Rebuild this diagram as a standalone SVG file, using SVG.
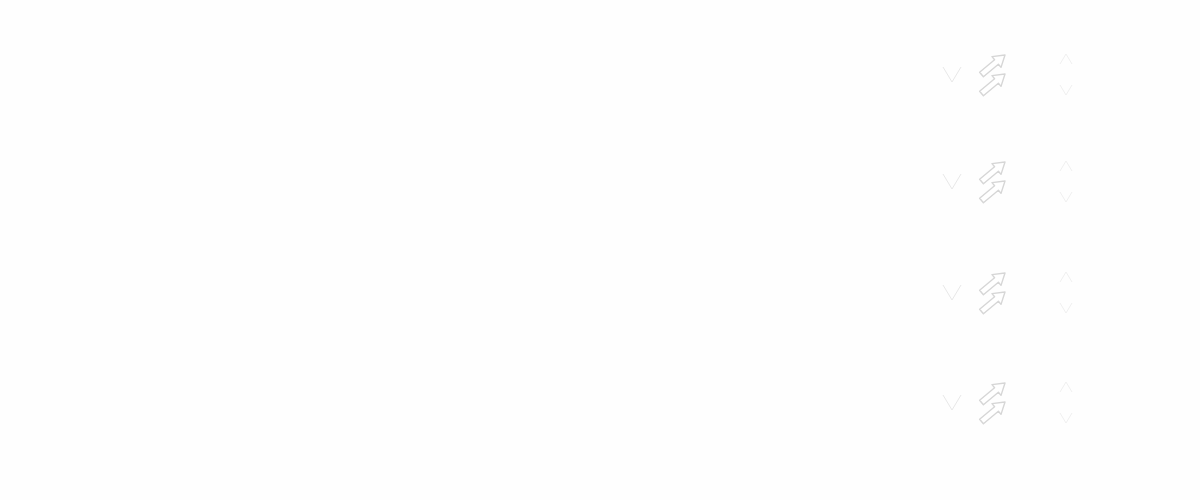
<svg xmlns="http://www.w3.org/2000/svg" width="1200" height="500" viewBox="0 0 1200 500">
<style>
.bg{fill:#fefefe}
.arrow{fill:#fff;stroke:#d6d6d6;stroke-width:1.4;stroke-linejoin:round}
.chev{fill:none;stroke:#e8e8e8;stroke-width:1}
.car{fill:none;stroke:#f0f0f0;stroke-width:1}
</style>
<defs>
<polygon id="blockArrow" class="arrow" points="1005,55 1001,67.4 998.4,64.3 983.4,76.8 979.6,72.2 994.6,59.7 992,56.6"/>
<g id="rowMarks">
<polyline class="chev" points="943,67 952,82 961,67"/>
<polyline class="car" points="1060,64 1066,54 1072,64"/>
<polyline class="car" points="1060,85 1066,95 1072,85"/>
<use href="#blockArrow"/>
<use href="#blockArrow" y="19"/>
</g>
</defs>
<rect class="bg" width="1200" height="500"/>
<g id="connectors">
<use id="row1" href="#rowMarks"/>
<use id="row2" href="#rowMarks" y="107"/>
<use id="row3" href="#rowMarks" y="218"/>
<use id="row4" href="#rowMarks" y="328"/>
</g>
</svg>
